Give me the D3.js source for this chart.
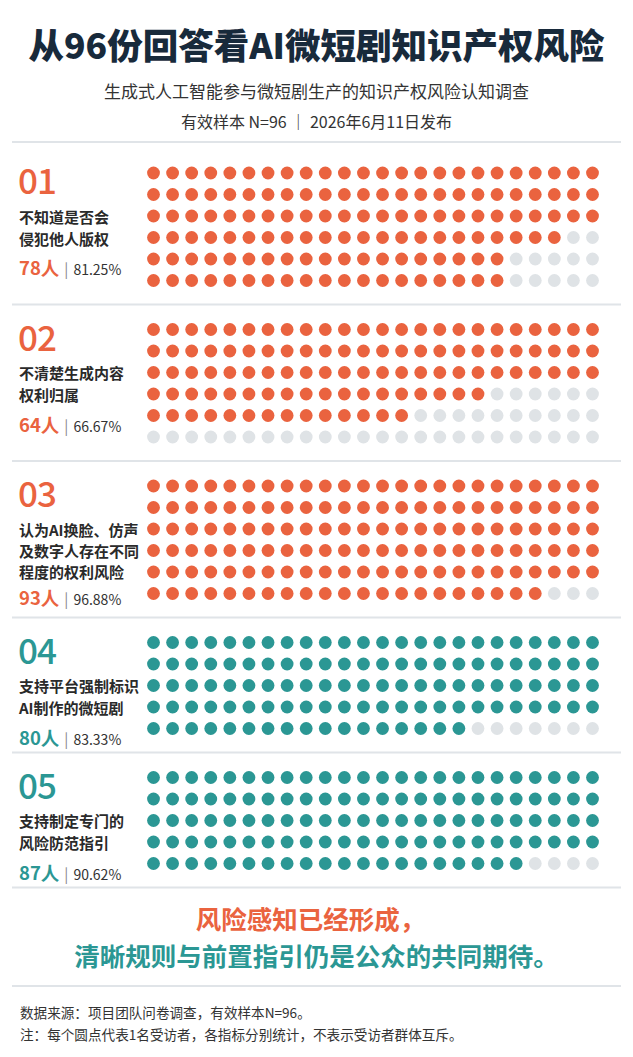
<!DOCTYPE html>
<html>
<head>
<meta charset="utf-8">
<script src="https://cdn.jsdelivr.net/npm/d3@7"></script>
<style>
  html, body { margin: 0; padding: 0; background: #ffffff; }
  svg { display: block; }
  text { font-family: "Noto Sans CJK SC", "Noto Sans", sans-serif; }
</style>
</head>
<body>
<div id="chart"></div>
<script>
// ---------- data ----------
const title = "从96份回答看AI微短剧知识产权风险";
const subtitle = "生成式人工智能参与微短剧生产的知识产权风险认知调查";
const meta = "有效样本 N=96 ｜ 2026年6月11日发布";
const itemIds = ["01", "02", "03", "04", "05"];
const itemLabels = [
  ["不知道是否会", "侵犯他人版权"],
  ["不清楚生成内容", "权利归属"],
  ["认为AI换脸、仿声", "及数字人存在不同", "程度的权利风险"],
  ["支持平台强制标识", "AI制作的微短剧"],
  ["支持制定专门的", "风险防范指引"]
];
const itemCounts = [78, 64, 93, 80, 87];
const itemPercents = ["81.25%", "66.67%", "96.88%", "83.33%", "90.62%"];
const itemGroups = ["risk", "risk", "risk", "support", "support"];
// dot grid as drawn: filled dots per row (24 columns per row)
const gridColumns = 24;
const rowFilled = [
  [24, 24, 24, 22, 19, 19],
  [24, 24, 24, 18, 14, 0],
  [24, 24, 24, 24, 24, 21],
  [24, 24, 24, 24, 17],
  [24, 24, 24, 24, 20]
];
const conclusion = ["风险感知已经形成，", "清晰规则与前置指引仍是公众的共同期待。"];
const notes = [
  "数据来源：项目团队问卷调查，有效样本N=96。",
  "注：每个圆点代表1名受访者，各指标分别统计，不表示受访者群体互斥。"
];

// ---------- styles ----------
const W = 633, H = 1057;
const colors = { risk: "#EA633F", support: "#2B9794", empty: "#DFE3E6",
                 title: "#182A3B", text: "#2a2a2a", rule: "#E0E4E8" };

const svg = d3.select("#chart").append("svg")
  .attr("width", W).attr("height", H).attr("viewBox", `0 0 ${W} ${H}`);
svg.append("rect").attr("width", W).attr("height", H).attr("fill", "#ffffff");

const rule = y => svg.append("line").attr("x1", 12).attr("x2", 621)
  .attr("y1", y).attr("y2", y).attr("stroke", colors.rule).attr("stroke-width", 2);

// ---------- header ----------
svg.append("text").attr("x", W / 2).attr("y", 59).attr("text-anchor", "middle")
  .attr("font-size", 35.5).attr("font-weight", 900).attr("fill", colors.title)
  .text(title);
svg.append("text").attr("x", W / 2).attr("y", 98).attr("text-anchor", "middle")
  .attr("font-size", 17).attr("fill", "#333").text(subtitle);
svg.append("text").attr("x", W / 2).attr("y", 128).attr("text-anchor", "middle")
  .attr("font-size", 16).attr("fill", "#333").text(meta);
rule(142);

// ---------- panels ----------
const x = d3.scalePoint().domain(d3.range(gridColumns)).range([153.5, 592.5]);
const rowStep = 21.5, padTop = 25, padBottom = 24;
let panelTop = 148;
itemIds.forEach((id, i) => {
  const rows = rowFilled[i].length;
  const color = colors[itemGroups[i]];
  const g = svg.append("g");
  const y = d3.scalePoint().domain(d3.range(rows))
    .range([panelTop + padTop, panelTop + padTop + (rows - 1) * rowStep]);

  const cells = [];
  rowFilled[i].forEach((n, r) => {
    d3.range(gridColumns).forEach(c => cells.push({ r, c, on: c < n }));
  });
  g.selectAll("circle").data(cells).join("circle")
    .attr("cx", d => x(d.c)).attr("cy", d => y(d.r)).attr("r", 6.4)
    .attr("fill", d => d.on ? color : colors.empty);

  // text column
  g.append("text").attr("x", 18).attr("y", panelTop + 46)
    .attr("font-size", 35).attr("font-weight", 500).attr("fill", color)
    .attr("letter-spacing", -1).text(id);
  const lines = itemLabels[i].length;
  const labelY0 = panelTop + 74.5;
  const lineStep = lines > 2 ? 21 : 22;
  itemLabels[i].forEach((line, k) => {
    g.append("text").attr("x", 19).attr("y", labelY0 + k * lineStep)
      .attr("font-size", 15).attr("font-weight", 700).attr("fill", colors.text)
      .text(line);
  });
  const statY = labelY0 + (lines - 1) * lineStep + (lines > 2 ? 27 : 30.5);
  const stat = g.append("text").attr("x", 19).attr("y", statY);
  stat.append("tspan").attr("font-size", 18.5).attr("font-weight", 700)
    .attr("fill", color).text(itemCounts[i] + "人");
  stat.append("tspan").attr("font-size", 15).attr("fill", "#888").attr("dx", 5).text("|");
  stat.append("tspan").attr("font-size", 14).attr("fill", "#333").attr("dx", 5)
    .text(itemPercents[i]);

  panelTop = panelTop + padTop + (rows - 1) * rowStep + padBottom;
  rule(panelTop);
});

// ---------- conclusion ----------
svg.append("text").attr("x", W / 2 - 6).attr("y", 929).attr("text-anchor", "middle")
  .attr("font-size", 25.5).attr("font-weight", 700).attr("fill", colors.risk)
  .text(conclusion[0]);
svg.append("text").attr("x", W / 2).attr("y", 966).attr("text-anchor", "middle")
  .attr("font-size", 25.5).attr("font-weight", 700).attr("fill", colors.support)
  .text(conclusion[1]);
rule(986);

// ---------- notes ----------
notes.forEach((t, k) => {
  svg.append("text").attr("x", 20).attr("y", 1018 + k * 22)
    .attr("font-size", 13.6).attr("fill", "#333").text(t);
});
</script>
</body>
</html>
